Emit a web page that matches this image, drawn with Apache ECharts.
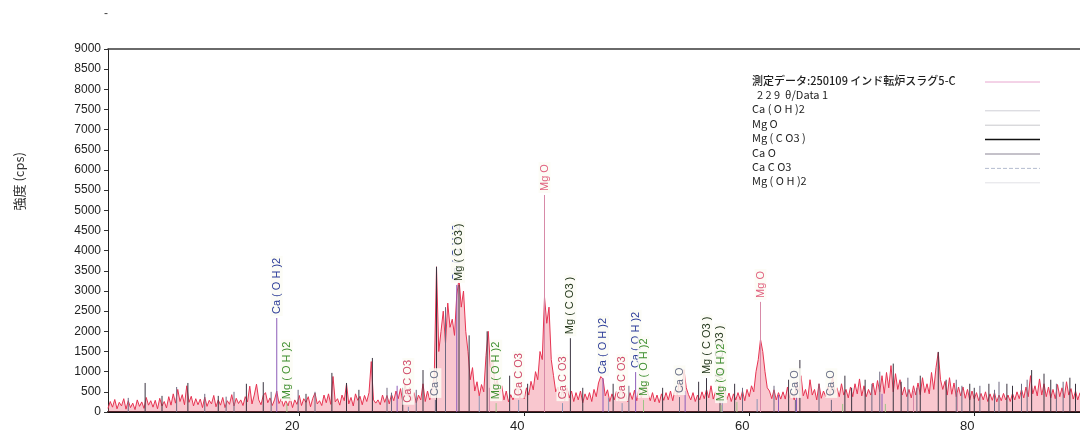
<!DOCTYPE html>
<html>
<head>
<meta charset="utf-8">
<script src="https://cdn.jsdelivr.net/npm/echarts@6/dist/echarts.min.js"></script>
<style>
  html, body { margin: 0; padding: 0; background: #ffffff; }
  #chart { width: 1080px; height: 437px; }
</style>
</head>
<body>
<div id="chart"></div>
<script>
// XRD scan (2θ, degrees): start angle and step of the measured counts below
const scanStart = 3.0;
const scanStep = 0.2;

// Measured intensity (cps), one value per step, 4° per row
const intensity = [
  90,260,120,310,80,240,150,330,70,280,110,220,60,300,140,250,90,360,170,280,
  120,290,80,340,150,260,100,380,170,450,220,560,260,430,180,650,240,390,150,330,
  180,320,110,370,140,290,200,410,130,300,170,360,110,280,190,430,150,340,210,300,
  160,380,250,640,200,420,690,300,180,410,480,230,350,160,300,520,210,330,140,290,
  150,350,110,300,190,410,160,330,240,380,130,340,470,200,280,160,420,230,450,190,
  880,250,330,170,420,280,700,200,360,150,450,290,390,180,410,260,480,1250,300,220,
  300,180,420,240,410,200,440,280,520,330,580,260,690,400,610,280,480,230,420,300,
  700,260,520,300,560,900,3600,1500,2000,2500,1700,2700,2100,2300,1900,2900,3300,2600,3000,2000,
  1500,800,1100,520,750,400,680,500,1400,2000,1100,1300,650,800,420,650,300,520,250,430,
  300,480,650,350,520,330,600,420,760,550,1000,800,1500,1300,2850,2200,2600,1300,900,500,
  620,330,550,280,600,350,520,260,480,300,520,230,450,300,480,260,560,380,720,880,
  820,400,550,260,450,300,520,280,650,330,470,250,480,310,540,280,600,350,560,700,
  460,280,480,250,420,230,450,290,480,300,520,280,560,420,800,500,1050,600,430,300,
  480,260,420,300,500,330,560,350,650,320,500,280,720,380,560,300,470,260,450,300,
  480,300,520,280,560,380,650,500,1000,1300,1800,1500,1000,600,520,330,550,300,480,320,
  500,320,620,350,480,300,750,500,900,400,560,330,800,420,560,300,700,340,520,380,
  640,400,900,480,600,380,700,420,560,350,620,380,700,450,820,400,650,380,560,420,
  720,420,780,500,900,460,980,600,1150,500,950,560,800,420,620,380,560,350,650,420,
  720,430,850,480,700,450,980,560,1100,1480,800,560,760,420,850,440,720,380,620,400,
  620,340,560,300,520,320,480,280,460,300,500,260,450,290,480,250,420,280,460,300,
  420,260,460,300,500,330,560,350,620,380,900,450,650,400,820,420,700,380,620,350,
  560,330,680,380,600,350,750,420,580,320,520,300,480
];

// Axis ticks
const xTicks = [20, 40, 60, 80];

// Phase reference lines: [2θ, height (cps), labelled 1/0]
const caOH2 = [
  [18.0, 2330, 1], [28.7, 650, 0], [34.0, 3150, 1], [47.0, 840, 1], [49.9, 990, 1],
  [54.3, 520, 0], [62.6, 420, 0], [64.2, 380, 0], [71.8, 450, 0]
];
const mgO = [
  [41.8, 5380, 1], [61.0, 2730, 1], [36.9, 600, 0], [74.6, 520, 0], [78.5, 480, 0]
];
const mgCO3 = [
  [34.2, 3150, 1], [44.1, 1830, 1], [56.2, 840, 1], [57.4, 620, 1],
  [6.3, 720, 0], [10.1, 720, 0], [15.3, 700, 0], [16.8, 740, 0], [22.9, 970, 0],
  [24.2, 720, 0], [26.5, 1340, 0], [31.0, 1040, 0], [32.2, 3600, 0], [35.1, 1900, 0],
  [36.7, 2000, 0], [38.7, 900, 0], [40.3, 700, 0], [45.2, 600, 0], [47.9, 700, 0],
  [52.3, 600, 0], [55.5, 750, 0], [58.7, 700, 0], [63.5, 800, 0], [64.5, 1290, 0],
  [68.5, 900, 0], [70.3, 800, 0], [72.8, 1200, 0], [75.2, 900, 0], [76.8, 1490, 0],
  [79.6, 700, 0], [81.3, 700, 0], [82.9, 700, 0], [85.1, 1040, 0], [86.2, 950, 0], [88.5, 850, 0],
  [7.8, 400, 0], [12.8, 400, 0], [20.6, 450, 0], [25.3, 550, 0], [29.2, 600, 0],
  [69.1, 600, 0], [73.5, 750, 0], [77.5, 800, 0], [80.0, 600, 0], [83.4, 650, 0], [86.8, 800, 0], [89.0, 700, 0]
];
const caO = [
  [32.1, 300, 1], [53.8, 370, 1], [64.1, 300, 1], [67.3, 300, 1],
  [9.1, 620, 0], [14.2, 500, 0], [19.9, 550, 0], [27.8, 600, 0], [33.0, 2600, 0],
  [49.3, 650, 0], [59.4, 600, 0], [62.2, 650, 0], [66.2, 700, 0], [71.6, 1000, 0],
  [74.1, 850, 0], [78.4, 800, 0], [80.5, 650, 0], [82.2, 750, 0], [84.7, 800, 0], [87.3, 700, 0],
  [4.8, 350, 0], [11.6, 450, 0], [13.5, 380, 0], [17.5, 500, 0], [21.4, 500, 0], [28.2, 480, 0],
  [30.4, 550, 0], [70.9, 700, 0], [74.9, 600, 0], [78.9, 650, 0], [81.8, 550, 0], [84.2, 700, 0], [87.9, 750, 0]
];
const caCO3 = [
  [29.7, 130, 1], [39.5, 300, 1], [43.4, 220, 1], [48.7, 220, 1],
  [36.0, 400, 0], [47.5, 350, 0], [57.6, 300, 0], [60.7, 320, 0]
];
const mgOH2 = [
  [18.9, 220, 1], [37.5, 220, 1], [50.6, 300, 1], [57.5, 170, 1],
  [58.9, 250, 0], [68.3, 200, 0], [72.1, 200, 0]
];

const scanName = '測定データ:250109 インド転炉スラグ5-C';
const scanSub = '  2 2 9  θ/Data 1';

// Phases: name, data, stick colour, label colour, legend swatch colour, dashed swatch
const phases = [
  { name: 'Ca ( O H )2', data: caOH2, line: '#8c5cb8', text: '#2c3c98', swatch: '#cfcfd6' },
  { name: 'Mg O',        data: mgO,   line: '#d78aa8', text: '#e0607f', swatch: '#c9c9cc' },
  { name: 'Mg ( C O3 )', data: mgCO3, line: '#3a3440', text: '#24381c', swatch: '#111111' },
  { name: 'Ca O',        data: caO,   line: '#6e6880', text: '#6a7088', swatch: '#8a8494' },
  { name: 'Ca C O3',     data: caCO3, line: '#8a93b3', text: '#d04a6a', swatch: '#b4bccf', dashed: true },
  { name: 'Mg ( O H )2', data: mgOH2, line: '#9cc486', text: '#3f8f2f', swatch: '#e2e2e6' }
];

const scanData = intensity.map((v, i) => [+(scanStart + i * scanStep).toFixed(1), v]);

function stickSeries(p) {
  return {
    type: 'custom',
    name: p.name,
    data: p.data,
    z: 3,
    silent: true,
    renderItem: function (params, api) {
      const x = api.value(0), h = api.value(1), lab = api.value(2);
      const base = api.coord([x, 0]);
      const top = api.coord([x, h]);
      const children = [{
        type: 'line',
        shape: { x1: base[0], y1: base[1], x2: top[0], y2: top[1] },
        style: { stroke: p.line, lineWidth: 1 }
      }];
      if (lab) {
        children.push({
          type: 'text',
          x: top[0],
          y: top[1] - 2,
          rotation: Math.PI / 2,
          z2: 10,
          style: {
            text: p.name,
            fill: p.text,
            fontSize: 11,
            fontFamily: 'Liberation Sans, Arial, sans-serif',
            align: 'left',
            verticalAlign: 'middle',
            backgroundColor: 'rgba(252,252,244,0.85)',
            padding: [1, 2, 0, 2]
          }
        });
      }
      return { type: 'group', children: children };
    }
  };
}

// Legend block drawn at the upper right of the plot
const legendX = 752, legendY = 82, rowH = 14.4;
const legendRows = [
  { text: scanName, color: '#e8a6cf', bold: true },
  { text: scanSub, color: null }
].concat(phases.map(p => ({ text: p.name, color: p.swatch, dashed: p.dashed })));

const legendGraphics = [];
legendRows.forEach((r, i) => {
  const y = legendY + i * rowH;
  legendGraphics.push({
    type: 'text', left: legendX, top: y - 7,
    style: {
      text: r.text,
      fill: '#1e1e1e',
      font: (r.bold ? '500 ' : '') + '11px "Noto Sans CJK JP", "Liberation Sans", sans-serif'
    }
  });
  if (r.color) {
    legendGraphics.push({
      type: 'line',
      shape: { x1: 985, y1: y, x2: 1040, y2: y },
      style: { stroke: r.color, lineWidth: i === 4 ? 1.5 : 1, lineDash: r.dashed ? [4, 2] : null }
    });
  }
});

const chart = echarts.init(document.getElementById('chart'), null, { renderer: 'canvas' });

chart.setOption({
  animation: false,
  backgroundColor: '#ffffff',
  grid: { left: 108, right: -2, top: 49, bottom: 25 },
  xAxis: [{
    type: 'value',
    min: 3,
    max: 89.4,
    splitLine: { show: false },
    axisLine: { show: true, onZero: false, lineStyle: { color: '#111', width: 2 } },
    axisTick: { show: true, length: 4, customValues: xTicks, lineStyle: { color: '#222' } },
    axisLabel: {
      customValues: xTicks,
      color: '#222',
      fontSize: 13,
      fontFamily: 'Liberation Sans, Arial, sans-serif',
      margin: 8,
      padding: [0, 14, 0, 0]
    }
  }, {
    type: 'value',
    position: 'top',
    min: 3,
    max: 89.4,
    splitLine: { show: false },
    axisLine: { show: true, onZero: false, lineStyle: { color: '#3a3a3a', width: 1.5 } },
    axisTick: { show: false },
    axisLabel: { show: false }
  }],
  yAxis: {
    type: 'value',
    min: 0,
    max: 9000,
    interval: 500,
    splitLine: { show: false },
    axisLine: { show: true, onZero: false, lineStyle: { color: '#222', width: 1 } },
    axisTick: { show: true, length: 4, lineStyle: { color: '#333' } },
    axisLabel: {
      color: '#222',
      fontSize: 12,
      fontFamily: 'Liberation Sans, Arial, sans-serif',
      margin: 7,
      formatter: function (v) { return String(v); }
    }
  },
  graphic: [
    {
      type: 'text', left: 13, top: 152, rotation: Math.PI / 2,
      style: { text: '強度 (cps)', fill: '#333', font: '13px "Noto Sans CJK JP", sans-serif' }
    },
    {
      type: 'text', left: 104, top: 8,
      style: { text: '-', fill: '#444', font: '12px "Liberation Sans", sans-serif' }
    }
  ].concat(legendGraphics),
  series: [{
    type: 'line',
    name: scanName,
    data: scanData,
    showSymbol: false,
    z: 2,
    lineStyle: { color: '#e63452', width: 1 },
    areaStyle: { color: 'rgba(234,64,92,0.42)', origin: 'start' }
  }].concat(phases.map(stickSeries))
});
</script>
</body>
</html>
